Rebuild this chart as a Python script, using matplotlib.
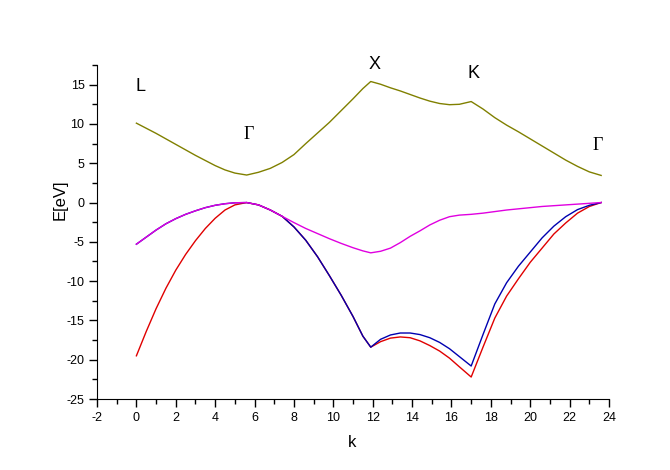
import matplotlib
matplotlib.use("Agg")
import matplotlib.pyplot as plt
from matplotlib.ticker import MultipleLocator

plt.rcParams["axes.unicode_minus"] = False

k = [0, 0.5, 1, 1.5, 2, 2.5, 3, 3.5, 4, 4.5, 5, 5.6, 6.2, 6.8, 7.4, 8, 8.6, 9.2,
     9.8, 10.4, 11, 11.5, 11.9, 12.4, 12.9, 13.4, 13.9, 14.4, 14.9, 15.4, 15.9,
     16.4, 17.0, 17.6, 18.2, 18.8, 19.4, 20, 20.6, 21.2, 21.8, 22.4, 23.0, 23.6]

band_olive = [10.1, 9.45, 8.8, 8.1, 7.4, 6.7, 6.0, 5.35, 4.7, 4.15, 3.75, 3.5, 3.85,
              4.35, 5.1, 6.1, 7.5, 8.85, 10.2, 11.7, 13.2, 14.5, 15.4, 15.05, 14.6,
              14.2, 13.75, 13.3, 12.9, 12.6, 12.45, 12.5, 12.85, 11.9, 10.8, 9.85,
              9.0, 8.1, 7.2, 6.3, 5.4, 4.6, 3.9, 3.45]

band_magenta = [-5.3, -4.4, -3.5, -2.7, -2.05, -1.5, -1.05, -0.65, -0.35, -0.15,
                -0.03, 0.0, -0.3, -0.95, -1.75, -2.55, -3.3, -3.95, -4.6, -5.2,
                -5.75, -6.15, -6.4, -6.2, -5.8, -5.1, -4.3, -3.6, -2.85, -2.25,
                -1.8, -1.6, -1.5, -1.35, -1.15, -0.95, -0.8, -0.65, -0.5, -0.4,
                -0.3, -0.2, -0.1, 0.0]

band_blue = [-5.3, -4.4, -3.5, -2.7, -2.05, -1.5, -1.05, -0.65, -0.35, -0.15,
             -0.03, 0.0, -0.3, -0.95, -1.75, -3.1, -4.8, -6.9, -9.3, -11.8,
             -14.5, -17.0, -18.4, -17.4, -16.85, -16.6, -16.6, -16.8, -17.2,
             -17.8, -18.6, -19.6, -20.8, -16.8, -12.9, -10.2, -8.1, -6.3, -4.5,
             -3.0, -1.8, -0.9, -0.35, 0.0]

band_red = [-19.5, -16.4, -13.5, -10.9, -8.6, -6.6, -4.85, -3.3, -2.0, -0.95,
            -0.3, 0.0, -0.3, -0.95, -1.75, -3.1, -4.8, -6.9, -9.3, -11.8,
            -14.5, -17.0, -18.4, -17.7, -17.25, -17.1, -17.2, -17.6, -18.2,
            -18.9, -19.8, -20.9, -22.2, -18.4, -14.7, -11.9, -9.7, -7.6, -5.8,
            -4.0, -2.6, -1.35, -0.5, 0.0]

point_labels = ["L", "Γ", "X", "K", "Γ"]
label_x = [0.2, 5.7, 12.1, 17.1, 23.45]
label_y = [14.8, 8.7, 17.6, 16.4, 7.3]

fig = plt.figure(figsize=(6.7, 4.7), dpi=100)
ax = fig.add_axes([0.1448, 0.151, 0.909 - 0.1448, 0.8617 - 0.151])

ax.plot(k, band_olive, color="#808000", lw=1.0)
ax.plot(k, band_red, color="#e00000", lw=1.0)
ax.plot(k, band_blue, color="#0000b0", lw=1.0)
ax.plot(k, band_magenta, color="#e000e0", lw=1.0)

for lab, x, y in zip(point_labels, label_x, label_y):
    fam = ["Liberation Serif", "DejaVu Serif"] if lab == "Γ" else ["Liberation Sans", "DejaVu Sans"]
    ax.text(x, y, lab, ha="center", va="center", fontsize=13, family=fam)

ax.set_xlim(-2, 24)
ax.set_ylim(-25, 17.5)
ax.xaxis.set_major_locator(MultipleLocator(2))
ax.xaxis.set_minor_locator(MultipleLocator(1))
ax.yaxis.set_major_locator(MultipleLocator(5))
ax.yaxis.set_minor_locator(MultipleLocator(2.5))

for s in ["top", "right"]:
    ax.spines[s].set_visible(False)

ax.tick_params(which="major", direction="out", length=6, width=1,
               labelsize=9, pad=3)
ax.tick_params(which="minor", direction="out", length=3.5, width=1)
for lbl in ax.get_xticklabels() + ax.get_yticklabels():
    lbl.set_family(["Liberation Sans", "DejaVu Sans"])

ax.set_xlabel("k", fontsize=12, family=["Liberation Sans", "DejaVu Sans"])
ax.set_ylabel("E[eV]", fontsize=12, family=["Liberation Sans", "DejaVu Sans"])
ax.xaxis.set_label_coords(0.498, -0.129)
ax.yaxis.set_label_coords(-0.072, 0.596)
ax.xaxis.label.set_va("center")
ax.yaxis.label.set_va("center")

fig.savefig("out.png", dpi=100)
